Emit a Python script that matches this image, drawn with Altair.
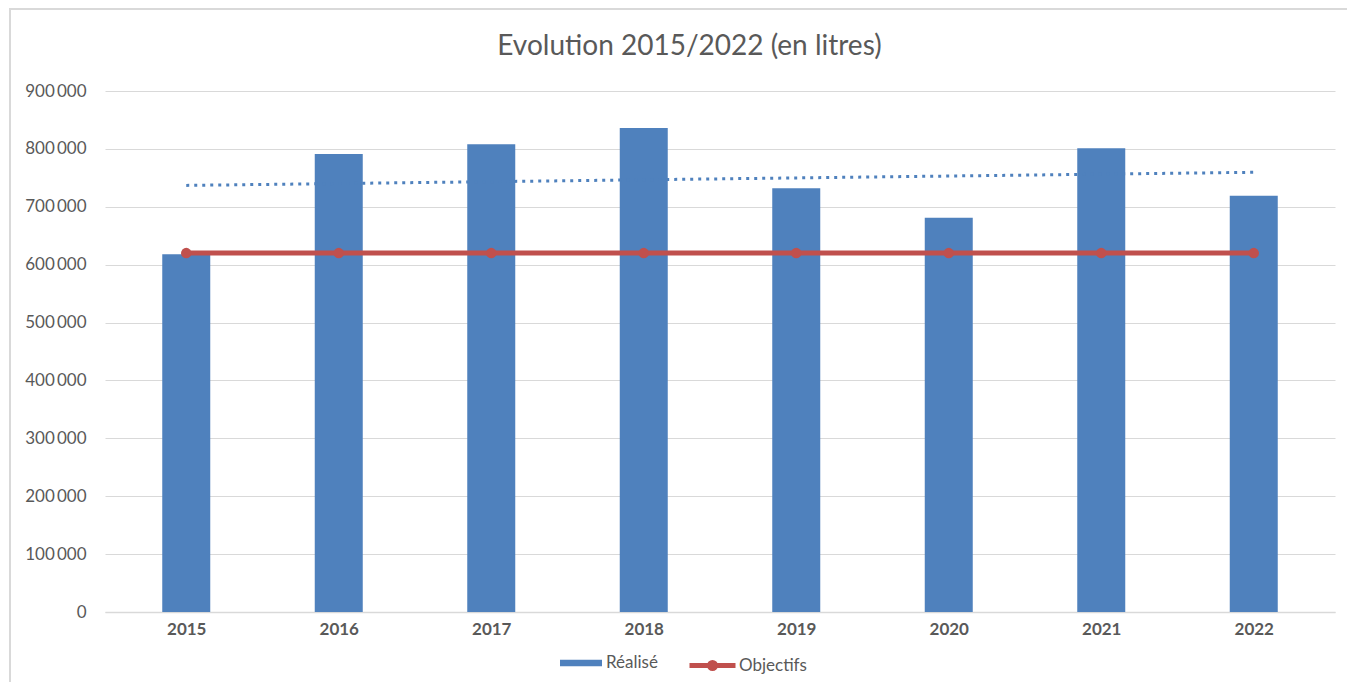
import altair as alt
import pandas as pd

# ---- data ----
years = [2015, 2016, 2017, 2018, 2019, 2020, 2021, 2022]
realise = [618000, 791000, 808000, 836000, 732000, 681000, 801000, 719000]
objectifs = [620000, 620000, 620000, 620000, 620000, 620000, 620000, 620000]
serie_bar = ["Réalisé"] * 8
serie_line = ["Objectifs"] * 8
y_ticks = [0, 100000, 200000, 300000, 400000, 500000, 600000, 700000, 800000, 900000]
title_text = "Evolution 2015/2022 (en litres)"

df = pd.DataFrame({
    "annee": years,
    "realise": realise,
    "objectif": objectifs,
    "serie_bar": serie_bar,
    "serie_line": serie_line,
})

W, H = 1230, 521
FONT = "Lato"
GREY = "#595959"
GRID = "#d9d9d9"
BLUE = "#4F81BD"
RED = "#C0504D"

x_enc = alt.X(
    "annee:Q",
    scale=alt.Scale(domain=[2014.5, 2022.5], nice=False, zero=False),
    axis=alt.Axis(values=years, format="d", grid=False, ticks=False,
                  domainColor=GRID, domainWidth=1.5, labelFontSize=17,
                  labelFontWeight="bold", labelColor=GREY, labelPadding=9,
                  title=None, labelFont=FONT),
)
y_scale = alt.Scale(domain=[0, 900000], nice=False)
y_axis = alt.Axis(values=y_ticks, grid=True, gridColor=GRID, gridWidth=1.2,
                  domain=False, ticks=False, labelPadding=19, title=None,
                  labelFontSize=17, labelColor=GREY, labelFont=FONT,
                  labelExpr="replace(format(datum.value, ','), ',', '\u2009')")

bars = alt.Chart(df).mark_bar(size=48).encode(
    x=x_enc,
    y=alt.Y("realise:Q", scale=y_scale, axis=y_axis),
    fill=alt.Fill(
        "serie_bar:N",
        scale=alt.Scale(domain=["Réalisé"], range=[BLUE]),
        legend=alt.Legend(
            title=None, orient="none", legendX=455, legendY=551,
            symbolType="M-1,-0.16H1V0.16H-1Z", symbolSize=1764,
            symbolStrokeWidth=0, labelFontSize=17, labelColor=GREY,
            labelFont=FONT, labelOffset=4,
        ),
    ),
)

trend = alt.Chart(df).transform_regression("annee", "realise").mark_line(
    color=BLUE, strokeWidth=3, strokeDash=[3, 5], strokeCap="butt"
).encode(
    x=alt.X("annee:Q"),
    y=alt.Y("realise:Q"),
)

line = alt.Chart(df).mark_line(strokeWidth=5).encode(
    x=alt.X("annee:Q"),
    y=alt.Y("objectif:Q"),
    stroke=alt.Stroke(
        "serie_line:N",
        scale=alt.Scale(domain=["Objectifs"], range=[RED]),
        legend=alt.Legend(
            title=None, orient="none", legendX=582, legendY=549,
            symbolType="M-1,0H1M0.13,0A0.13,0.13 0 1,1 -0.13,0A0.13,0.13 0 1,1 0.13,0",
            symbolSize=2116, symbolStrokeWidth=5, symbolFillColor=RED,
            labelFontSize=17, labelColor=GREY, labelFont=FONT, labelOffset=1,
        ),
    ),
)

points = alt.Chart(df).mark_circle(size=110, color=RED, opacity=1).encode(
    x=alt.X("annee:Q"),
    y=alt.Y("objectif:Q"),
)

frame_df = pd.DataFrame({"k": [0]})
frame = alt.Chart(frame_df).mark_rect(
    fillOpacity=0, stroke="#d9d9d9", strokeWidth=2
).encode(
    x=alt.value(-95), x2=alt.value(1264),
    y=alt.value(-82), y2=alt.value(610),
)

chart = alt.layer(frame, bars, trend, line, points).properties(
    width=W,
    height=H,
    autosize=alt.AutoSizeParams(type="none"),
    padding={"left": 97, "top": 83, "right": 12, "bottom": 70},
    title=alt.Title(title_text, fontSize=28, font=FONT, color=GREY,
                    fontWeight="normal", frame="bounds", anchor="middle",
                    offset=-53),
).configure_view(stroke=None)

chart.save("out.html", embed_options={"renderer": "svg", "actions": False})
